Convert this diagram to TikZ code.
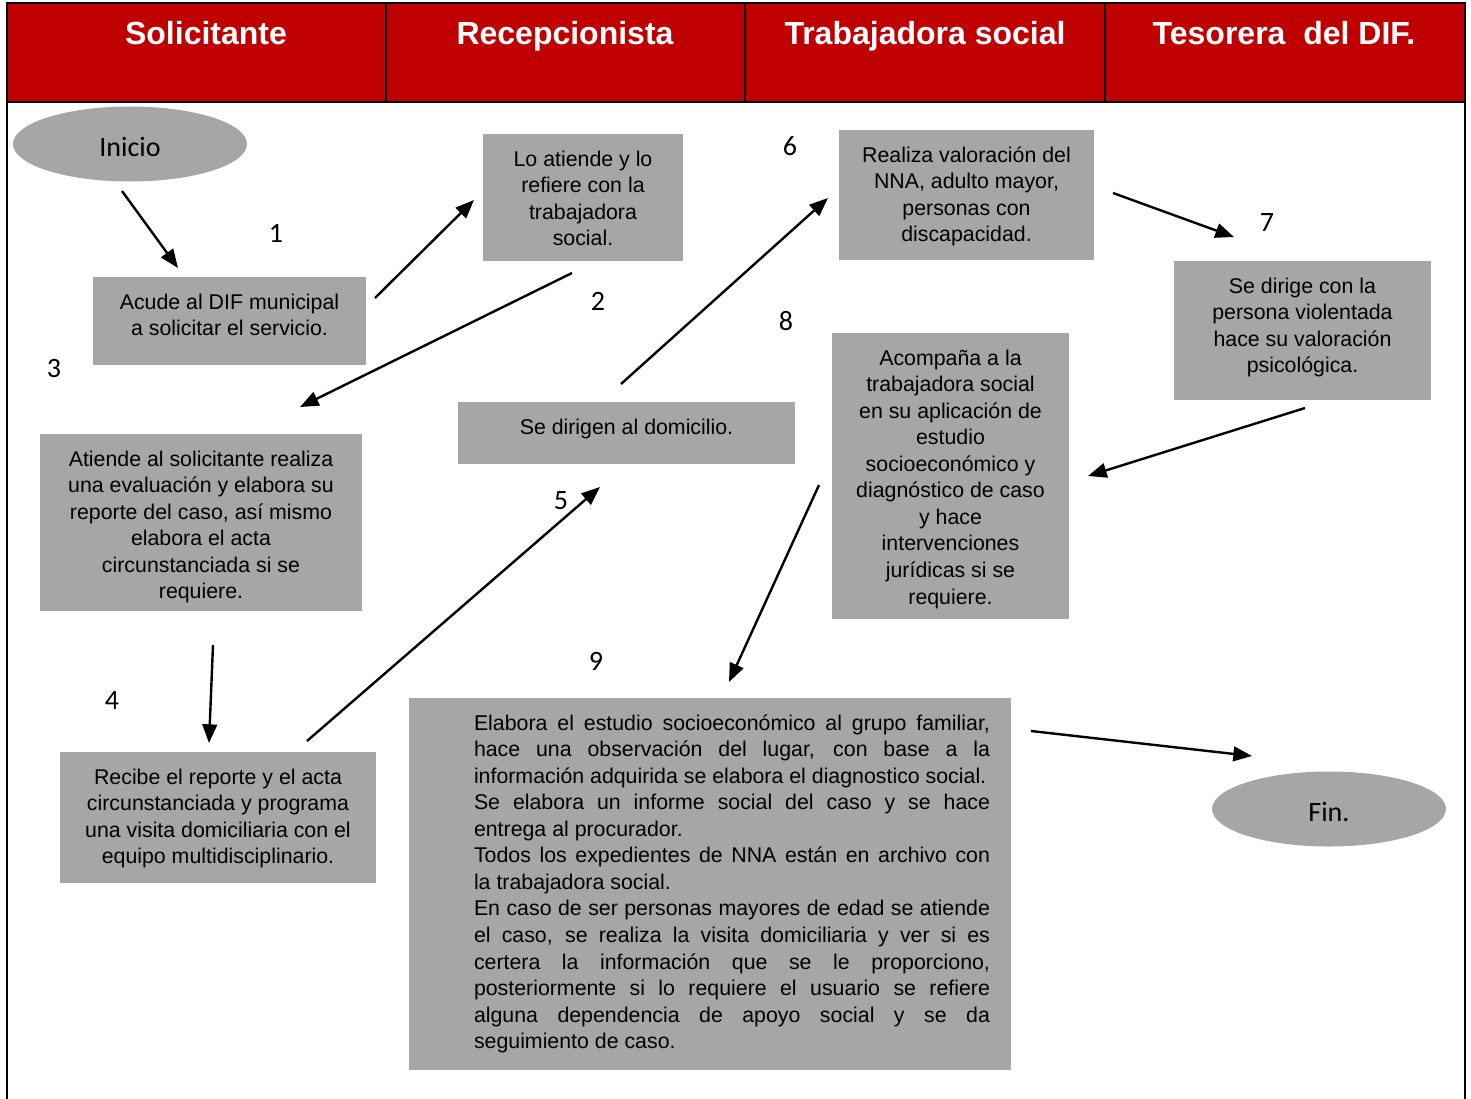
\documentclass[tikz,border=0pt]{standalone}
\usepackage{fontspec}
\setmainfont{Liberation Sans}
\newfontfamily\calibrifont{Carlito}
\usetikzlibrary{arrows.meta,shapes.geometric}
\definecolor{headred}{RGB}{192,0,0}
\definecolor{boxgray}{RGB}{166,166,166}
% text block of a process box: fixed size, set from the top
\newcommand{\proctext}[3]{\parbox[c][#2][t]{#1}{\vspace*{10.25pt}\centering\leavevmode\strut #3\par}}
% label of a terminal, set a little below the centre
\newcommand{\termtext}[1]{\raisebox{0pt}[\dimexpr\height+4.5pt\relax][\depth]{#1}}
\begin{document}
\begin{tikzpicture}[x=0.75pt,y=-0.75pt,
  proc/.style={fill=boxgray, inner sep=0pt, font=\fontsize{16}{19.9}\selectfont},
  terminal/.style={ellipse, fill=boxgray, minimum width=175.5pt, minimum height=56.25pt,
    inner sep=0pt, font=\calibrifont\fontsize{21}{25}\selectfont},
  stepnum/.style={inner sep=0pt, font=\calibrifont\fontsize{21}{25}\selectfont},
  lane/.style={anchor=base, inner sep=0pt, text=white, font=\bfseries\fontsize{24}{28}\selectfont},
  flow/.style={-{Triangle[length=14pt,width=11pt]}, line width=1.8pt},
  frame/.style={line width=1.5pt}]
\useasboundingbox (0,0) rectangle (1471,1099);

% header band and frame
\fill[headred] (7,3) rectangle (1465,102);
\draw[frame] (7,1099) -- (7,3) -- (1465,3) -- (1465,1099);
\draw[frame] (7,102) -- (1465,102);
\foreach \x in {386,745,1105} \draw[frame] (\x,3) -- (\x,102);

\node[lane] (lane1) at (206,44.5) {Solicitante};
\node[lane] (lane2) at (565,44.5) {Recepcionista};
\node[lane] (lane3) at (925,44.5) {Trabajadora social};
\node[lane] (lane4) at (1284,44.5) {Tesorera\ \ del DIF.};

% start and end
\node[terminal] (inicio) at (130,144) {\termtext{Inicio}};
\node[terminal] (fin) at (1329,809) {\termtext{Fin.}};

% process boxes
\node[proc] (acude) at (229.5,321)
  {\proctext{204.75pt}{66pt}{Acude al DIF municipal\\a solicitar el servicio.}};
\node[proc] (refiere) at (583,197.5)
  {\proctext{150pt}{95.25pt}{Lo atiende y lo\\refiere con la\\trabajadora\\social.}};
\node[proc] (atiende) at (201,522.5)
  {\proctext{241.5pt}{132.75pt}{Atiende al solicitante realiza\\una evaluación y elabora su\\reporte del caso, así mismo\\elabora el acta\\circunstanciada si se\\requiere.}};
\node[proc] (recibe) at (218,817.5)
  {\proctext{237pt}{98.25pt}{Recibe el reporte y el acta\\circunstanciada y programa\\una visita domiciliaria con el\\equipo multidisciplinario.}};
\node[proc] (domicilio) at (626.5,433)
  {\proctext{252.75pt}{46.5pt}{Se dirigen al domicilio.}};
\node[proc] (valora) at (966.5,195)
  {\proctext{191.25pt}{97.5pt}{Realiza valoración del\\NNA, adulto mayor,\\personas con\\discapacidad.}};
\node[proc] (psico) at (1302.5,330.5)
  {\proctext{192.75pt}{104.25pt}{Se dirige con la\\persona violentada\\hace su valoración\\psicológica.}};
\node[proc] (acompana) at (950.5,476)
  {\proctext{177.75pt}{214.5pt}{Acompaña a la\\trabajadora social\\en su aplicación de\\estudio\\socioeconómico y\\diagnóstico de caso\\y hace\\intervenciones\\jurídicas si se\\requiere.}};
\node[proc] (estudio) at (710,884)
  {\parbox[c][279pt][t]{451.5pt}{\vspace*{10.25pt}\leftskip=48.75pt\rightskip=15.75pt
   \tolerance=10000\hbadness=10000\leavevmode\strut
   Elabora el estudio socioeconómico al grupo familiar,\linebreak
   hace una observación del lugar, con base a la\linebreak
   información adquirida se elabora el diagnostico social.\par
   Se elabora un informe social del caso y se hace\linebreak
   entrega al procurador.\par
   Todos los expedientes de NNA están en archivo con\linebreak
   la trabajadora social.\par
   En caso de ser personas mayores de edad se atiende\linebreak
   el caso, se realiza la visita domiciliaria y ver si es\linebreak
   certera la información que se le proporciono,\linebreak
   posteriormente si lo requiere el usuario se refiere\linebreak
   alguna dependencia de apoyo social y se da\linebreak
   seguimiento de caso.\par}};

% step numbers
\node[stepnum] (n1) at (276,233) {1};
\node[stepnum] (n2) at (598,301) {2};
\node[stepnum] (n3) at (54,369) {3};
\node[stepnum] (n4) at (112,701) {4};
\node[stepnum] (n5) at (561,501) {5};
\node[stepnum] (n6) at (790,146) {6};
\node[stepnum] (n7) at (1267,223) {7};
\node[stepnum] (n8) at (786,321) {8};
\node[stepnum] (n9) at (596,661) {9};

% connector ends (kept clear of the shapes)
\coordinate (inicio-out) at (122,191);    \coordinate (acude-in) at (178,268);
\coordinate (acude-out) at (375,298);     \coordinate (refiere-in) at (474,200);
\coordinate (refiere-out) at (572,273);   \coordinate (atiende-in) at (300,407);
\coordinate (atiende-out) at (213,645);   \coordinate (recibe-in) at (209,743);
\coordinate (recibe-out) at (307,741);    \coordinate (domicilio-in) at (600,487);
\coordinate (domicilio-out) at (621,384); \coordinate (valora-in) at (828,198);
\coordinate (valora-out) at (1113,193);   \coordinate (psico-in) at (1234,237);
\coordinate (psico-out) at (1305,408);    \coordinate (acompana-in) at (1088,476);
\coordinate (acompana-out) at (819,485);  \coordinate (estudio-in) at (729,682);
\coordinate (estudio-out) at (1031,731);  \coordinate (fin-in) at (1252,756);

\draw[flow] (inicio-out) -- (acude-in);
\draw[flow] (acude-out) -- (refiere-in);
\draw[flow] (refiere-out) -- (atiende-in);
\draw[flow] (atiende-out) -- (recibe-in);
\draw[flow] (recibe-out) -- (domicilio-in);
\draw[flow] (domicilio-out) -- (valora-in);
\draw[flow] (valora-out) -- (psico-in);
\draw[flow] (psico-out) -- (acompana-in);
\draw[flow] (acompana-out) -- (estudio-in);
\draw[flow] (estudio-out) -- (fin-in);
\end{tikzpicture}
\end{document}
